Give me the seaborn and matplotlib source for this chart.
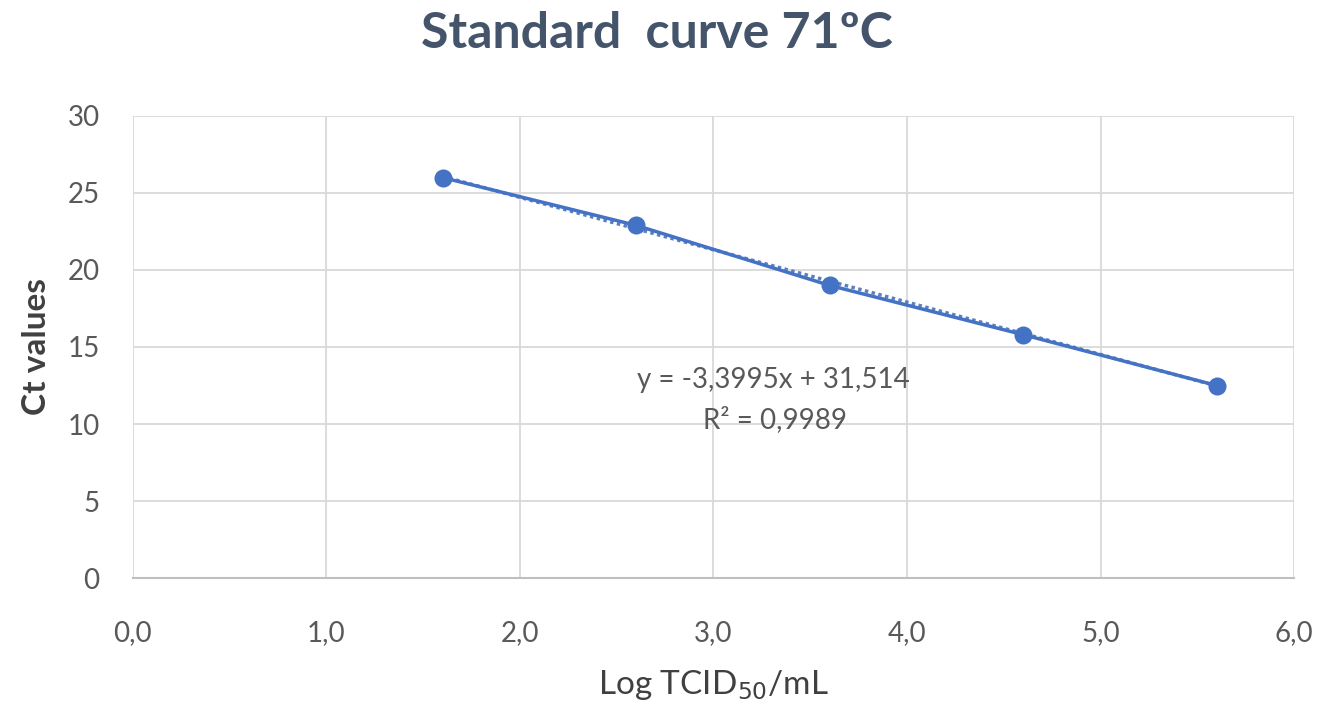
import numpy as np
import pandas as pd
import matplotlib
matplotlib.use("Agg")
import matplotlib.pyplot as plt
import seaborn as sns

# Data
log_tcid = [1.6, 2.6, 3.6, 4.6, 5.6]
ct_values = [26.0, 22.9, 19.0, 15.8, 12.5]
slope = -3.3995
intercept = 31.514
r2_text = "R² = 0,9989"
eq_text = "y = -3,3995x + 31,514"
x_ticks = [0, 1, 2, 3, 4, 5, 6]
x_tick_labels = ["0,0", "1,0", "2,0", "3,0", "4,0", "5,0", "6,0"]
y_ticks = [0, 5, 10, 15, 20, 25, 30]

sns.set_theme(style="whitegrid")
plt.rcParams['font.family'] = ['Lato', 'DejaVu Sans']

df = pd.DataFrame({"x": log_tcid, "y": ct_values})

fig = plt.figure(figsize=(13.32, 7.02), dpi=100)
ax = fig.add_axes([0.0998, 0.1766, 0.8717, 0.6582])

blue = "#4472C4"
sns.lineplot(data=df, x="x", y="y", ax=ax, color=blue, linewidth=2.5,
             marker="o", markersize=13, markeredgewidth=0, zorder=3)
# trendline
tx = np.array([log_tcid[0], log_tcid[-1]])
ax.plot(tx, slope * tx + intercept, color="#5B7FC0", linewidth=2.5,
        linestyle=(0, (1, 1)), zorder=2)

ax.set_xlim(0, 6)
ax.set_ylim(0, 30)
ax.set_xticks(x_ticks)
ax.set_xticklabels(x_tick_labels)
ax.set_yticks(y_ticks)
ax.grid(True, color="#D9D9D9", linewidth=1.3)
for s in ["top", "right"]:
    ax.spines[s].set_visible(False)
ax.spines["left"].set_visible(False)
ax.spines["bottom"].set_color("#BFBFBF")
ax.spines["bottom"].set_linewidth(1.5)
ax.tick_params(axis="y", labelsize=20, colors="#595959", length=0, pad=24)
ax.tick_params(axis="x", labelsize=20, colors="#595959", length=0, pad=30)

ax.set_xlabel("Log TCID$_{50}$/mL", fontsize=24, color="#404040", labelpad=16)
ax.set_ylabel("Ct values", fontsize=24, color="#404040", fontweight="bold", labelpad=12)

ax.text(3.31, 12.86, eq_text, ha="center", va="center", fontsize=20, color="#595959")
ax.text(3.32, 10.26, r2_text, ha="center", va="center", fontsize=20, color="#595959")

fig.suptitle("Standard  curve 71ºC", x=0.493, y=0.985, fontsize=36,
             fontweight="bold", color="#44546A")

fig.savefig("out.png", dpi=100, facecolor="white")
